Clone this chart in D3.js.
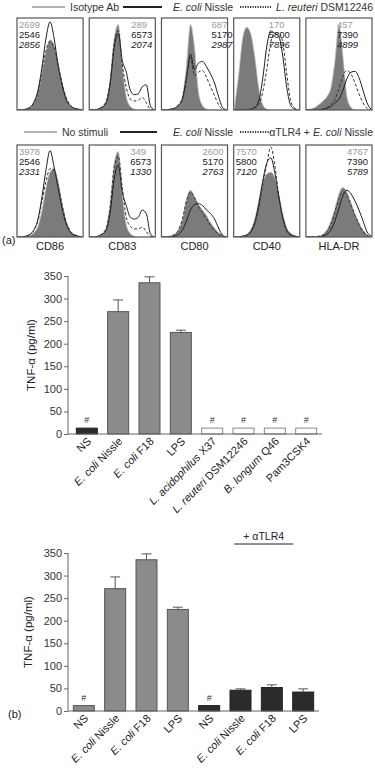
<!DOCTYPE html>
<html>
<head>
<meta charset="utf-8">
<script src="https://cdn.jsdelivr.net/npm/d3@7"></script>
<style>
  html, body { margin: 0; padding: 0; background: #fff; }
  svg { display: block; font-family: "Liberation Sans", Arial, sans-serif; }
  .axis path, .axis line { stroke: #666; }
  .axis text { fill: #333; font-size: 11px; }
</style>
</head>
<body>
<div id="chart"></div>
<script>
// ---------------------------------------------------------------------------
// (a) flow histograms — marker names, MFI values and curve heights per panel
// ---------------------------------------------------------------------------
const markers = ["CD86", "CD83", "CD80", "CD40", "HLA-DR"];

const mfiRow1 = [[2699, 2546, 2856], [289, 6573, 2074], [687, 5170, 2987], [170, 5800, 7896], [457, 7390, 4899]];
const mfiRow2 = [[3978, 2546, 2331], [349, 6573, 1330], [2600, 5170, 2763], [7570, 5800, 7120], [4767, 7390, 5789]];

// heights 0..100, 17 bins across each panel
const histRow1Fill = [
  [0, 0, 1, 3, 8, 20, 42, 65, 78, 72, 52, 30, 14, 5, 2, 1, 0],
  [0, 0, 1, 3, 10, 35, 80, 95, 50, 15, 4, 1, 0, 0, 0, 0, 0],
  [0, 0, 1, 2, 5, 15, 50, 95, 70, 20, 5, 1, 0, 0, 0, 0, 0],
  [5, 40, 80, 92, 85, 60, 25, 6, 1, 0, 0, 0, 0, 0, 0, 0, 0],
  [0, 1, 3, 6, 10, 15, 25, 55, 95, 60, 15, 3, 0, 0, 0, 0, 0],
];
const histRow1Solid = [
  [0, 0, 1, 3, 9, 22, 48, 80, 98, 80, 50, 28, 12, 5, 2, 1, 0],
  [0, 0, 1, 3, 8, 30, 70, 85, 55, 42, 22, 17, 18, 26, 28, 5, 0],
  [0, 0, 1, 2, 5, 12, 35, 62, 45, 52, 54, 48, 40, 30, 15, 3, 0],
  [0, 0, 0, 0, 1, 3, 10, 35, 70, 88, 85, 82, 60, 25, 5, 1, 0],
  [0, 0, 0, 0, 1, 2, 4, 8, 12, 22, 35, 42, 43, 36, 22, 8, 1],
];
const histRow1Dash = [
  [0, 0, 1, 3, 8, 20, 44, 66, 76, 70, 50, 30, 14, 6, 2, 1, 0],
  [0, 0, 1, 4, 10, 32, 75, 88, 50, 25, 12, 10, 11, 14, 8, 1, 0],
  [0, 0, 1, 2, 6, 14, 38, 58, 38, 42, 44, 36, 26, 16, 6, 1, 0],
  [0, 0, 0, 0, 0, 2, 6, 20, 45, 75, 85, 86, 75, 40, 10, 2, 0],
  [0, 0, 0, 0, 1, 3, 6, 12, 24, 38, 44, 40, 30, 18, 8, 2, 0],
];
const histRow2Fill = [
  [0, 0, 1, 2, 5, 12, 30, 55, 72, 76, 62, 38, 18, 7, 3, 1, 0],
  [0, 0, 1, 3, 10, 38, 82, 95, 48, 14, 4, 1, 0, 0, 0, 0, 0],
  [0, 0, 1, 3, 8, 20, 42, 52, 45, 36, 30, 24, 16, 10, 5, 2, 0],
  [0, 0, 1, 3, 8, 20, 40, 60, 70, 72, 66, 48, 26, 10, 4, 1, 0],
  [0, 0, 0, 1, 3, 8, 18, 32, 48, 55, 50, 38, 26, 16, 8, 3, 0],
];
const histRow2Solid = [
  [0, 0, 1, 3, 8, 20, 45, 75, 96, 78, 55, 32, 15, 6, 2, 1, 0],
  [0, 0, 1, 3, 8, 28, 65, 80, 50, 35, 22, 20, 22, 30, 26, 4, 0],
  [0, 0, 0, 1, 3, 8, 18, 30, 36, 37, 35, 30, 26, 20, 10, 2, 0],
  [0, 0, 1, 2, 6, 16, 36, 62, 82, 88, 72, 45, 22, 8, 3, 1, 0],
  [0, 0, 0, 0, 1, 3, 8, 18, 32, 46, 52, 48, 40, 30, 18, 6, 1],
];
const histRow2Dash = [
  [0, 0, 1, 3, 8, 18, 40, 62, 76, 74, 58, 36, 17, 7, 3, 1, 0],
  [0, 0, 1, 4, 10, 34, 78, 90, 55, 22, 12, 9, 9, 11, 6, 1, 0],
  [0, 0, 1, 3, 8, 20, 40, 50, 44, 34, 27, 20, 13, 7, 3, 1, 0],
  [0, 0, 1, 2, 5, 14, 32, 58, 80, 100, 80, 46, 20, 6, 2, 1, 0],
  [0, 0, 0, 1, 2, 6, 14, 28, 42, 50, 46, 36, 24, 14, 6, 2, 0],
];

// legend entries: [italic part, plain part]
const legendRow1 = [["", "Isotype Ab"], ["E. coli", " Nissle"], ["L. reuteri", " DSM12246"]];
const legendRow2 = [["", "No stimuli"], ["E. coli", " Nissle"], ["", "αTLR4 + ", "E. coli", " Nissle"]];

// ---------------------------------------------------------------------------
// (a) lower + (b) TNF-α bars
// ---------------------------------------------------------------------------
const catsA = [["", "NS"], ["E. coli", " Nissle"], ["E. coli", " F18"], ["", "LPS"],
  ["L. acidophilus", " X37"], ["L. reuteri", " DSM12246"], ["B. longum", " Q46"], ["", "Pam3CSK4"]];
const valuesA = [13, 271, 335, 225, 13, 13, 13, 13];
const errA = [null, 297, 348, 230, null, null, null, null];
const hashA = [true, false, false, false, true, true, true, true];
const kindA = ["dark", "gray", "gray", "gray", "open", "open", "open", "open"];

const catsB = [["", "NS"], ["E. coli", " Nissle"], ["E. coli", " F18"], ["", "LPS"],
  ["", "NS"], ["E. coli", " Nissle"], ["E. coli", " F18"], ["", "LPS"]];
const valuesB = [12, 271, 335, 225, 12, 46, 52, 42];
const errB = [null, 297, 348, 230, null, 49, 58, 49];
const hashB = [true, false, false, false, true, false, false, false];
const kindB = ["gray", "gray", "gray", "gray", "dark", "dark", "dark", "dark"];

const yTicks = [0, 50, 100, 150, 200, 250, 300, 350];

const W = 375, H = 768;
const svg = d3.select("#chart").append("svg").attr("width", W).attr("height", H);
svg.append("rect").attr("width", W).attr("height", H).attr("fill", "#fff");
const defs = svg.append("defs");

// ---- legends ---------------------------------------------------------------
function legend(y, entries, lines) {
  const g = svg.append("g");
  const styles = [
    { stroke: "#9a9a9a", w: 1.4, dash: null },
    { stroke: "#222", w: 2, dash: null },
    { stroke: "#333", w: 2, dash: "1.2,1.3" },
  ];
  lines.forEach((l, i) => {
    g.append("line").attr("x1", l[0]).attr("x2", l[1]).attr("y1", y).attr("y2", y)
      .attr("stroke", styles[i].stroke).attr("stroke-width", styles[i].w)
      .attr("stroke-dasharray", styles[i].dash);
    const t = g.append("text").attr("y", y + 4).attr("font-size", 10.5).attr("fill", "#333");
    if (i === 2) t.attr("x", 373).attr("text-anchor", "end");
    else t.attr("x", l[2]);
    entries[i].forEach((part, k) => {
      if (!part) return;
      t.append("tspan").attr("font-style", k % 2 === 0 ? "italic" : "normal").text(part);
    });
  });
}
legend(7, legendRow1, [[32, 65, 70], [123, 162, 173], [240, 271, 274]]);
legend(132, legendRow2, [[24, 57, 62], [120, 157, 173], [240, 271, 274]]);

// ---- histogram rows --------------------------------------------------------
const panelX = d3.scaleBand().domain(markers).range([17, 372]).paddingInner(0.085);
const numOffsets1 = [2, 42, 50, 35, 31];
const numOffsets2 = [2, 41, 41, 2, 41];

function histRow(rowIdx, top, bottom, fills, solids, dashes, mfi, offsets) {
  markers.forEach((m, i) => {
    const x0 = panelX(m), w = panelX.bandwidth();
    const g = svg.append("g");
    const clipId = `clip-${rowIdx}-${i}`;
    defs.append("clipPath").attr("id", clipId).append("rect")
      .attr("x", x0).attr("y", top).attr("width", w).attr("height", bottom - top);
    const x = d3.scaleLinear().domain([0, 16]).range([x0 + 1, x0 + w - 1]);
    const y = d3.scaleLinear().domain([0, 100]).range([bottom, top + 2]);
    const area = d3.area().x((d, k) => x(k)).y0(bottom).y1((d) => y(d)).curve(d3.curveMonotoneX);
    const line = d3.line().x((d, k) => x(k)).y((d) => y(d)).curve(d3.curveMonotoneX);
    const c = g.append("g").attr("clip-path", `url(#${clipId})`);
    c.append("path").attr("d", area(fills[i])).attr("fill", "#7b7b7b");
    c.append("path").attr("d", line(fills[i])).attr("fill", "none").attr("stroke", "#c8c8c8").attr("stroke-width", 0.8);
    c.append("path").attr("d", line(solids[i])).attr("fill", "none").attr("stroke", "#1e1e1e").attr("stroke-width", 1);
    c.append("path").attr("d", line(dashes[i])).attr("fill", "none").attr("stroke", "#333")
      .attr("stroke-width", 1).attr("stroke-dasharray", "3,2");
    g.append("rect").attr("x", x0).attr("y", top).attr("width", w).attr("height", bottom - top)
      .attr("fill", "none").attr("stroke", "#555").attr("stroke-width", 1.2);
    const colors = ["#9c9c9c", "#222", "#222"];
    mfi[i].forEach((v, k) => {
      g.append("text").attr("x", x0 + offsets[i]).attr("y", top + 10 + k * 10)
        .attr("font-size", 9.5).attr("fill", colors[k])
        .attr("font-style", k === 2 ? "italic" : "normal").text(v);
    });
  });
}
histRow(1, 18, 110, histRow1Fill, histRow1Solid, histRow1Dash, mfiRow1, numOffsets1);
histRow(2, 145, 237, histRow2Fill, histRow2Solid, histRow2Dash, mfiRow2, numOffsets2);

markers.forEach((m) => {
  svg.append("text").attr("x", panelX(m) + panelX.bandwidth() / 2).attr("y", 250)
    .attr("text-anchor", "middle").attr("font-size", 11).attr("fill", "#222").text(m);
});
svg.append("text").attr("x", 2).attr("y", 244).attr("font-size", 11).attr("fill", "#222").text("(a)");

// ---- bar charts ------------------------------------------------------------
function barChart(opts) {
  const { cats, values, errs, hashes, kinds, axisX, x0, x1, y0, y1, labelX } = opts;
  const g = svg.append("g");
  const x = d3.scaleBand().domain(d3.range(cats.length)).range([x0, x1])
    .paddingInner(0.33).paddingOuter(0.17);
  const y = d3.scaleLinear().domain([0, 350]).range([y0, y1]);

  const fills = { dark: "#2b2b2b", gray: "#898b8d", open: "#fff" };
  const strokes = { dark: "#222", gray: "#555", open: "#888" };

  g.selectAll("rect.bar").data(values).enter().append("rect")
    .attr("class", "bar")
    .attr("x", (d, i) => x(i)).attr("width", x.bandwidth())
    .attr("y", (d) => y(d)).attr("height", (d) => y0 - y(d))
    .attr("fill", (d, i) => fills[kinds[i]])
    .attr("stroke", (d, i) => strokes[kinds[i]]).attr("stroke-width", 1);

  errs.forEach((e, i) => {
    if (e == null) return;
    const cx = x(i) + x.bandwidth() / 2;
    g.append("line").attr("x1", cx).attr("x2", cx).attr("y1", y(values[i])).attr("y2", y(e))
      .attr("stroke", "#555").attr("stroke-width", 1);
    g.append("line").attr("x1", cx - 5).attr("x2", cx + 5).attr("y1", y(e)).attr("y2", y(e))
      .attr("stroke", "#555").attr("stroke-width", 1);
  });

  hashes.forEach((h, i) => {
    if (!h) return;
    g.append("text").attr("x", x(i) + x.bandwidth() / 2).attr("y", y(values[i]) - 5)
      .attr("text-anchor", "middle").attr("font-size", 9).attr("fill", "#333").text("#");
  });

  // axes
  g.append("line").attr("x1", axisX).attr("x2", x1).attr("y1", y0).attr("y2", y0)
    .attr("stroke", "#666").attr("stroke-width", 1);
  const ax = g.append("g").attr("class", "axis").attr("transform", `translate(${axisX},0)`)
    .call(d3.axisLeft(y).tickValues(yTicks).tickSize(4).tickPadding(2).tickFormat(d3.format("d")));
  ax.select(".domain").attr("d", `M0,${y0}V${y1}`);

  // rotated category labels
  cats.forEach((c, i) => {
    const cx = x(i) + x.bandwidth() / 2;
    const t = g.append("text")
      .attr("transform", `translate(${cx + 5},${y0 + 8}) rotate(-45)`)
      .attr("text-anchor", "end").attr("font-size", 11).attr("fill", "#222");
    if (c[0]) t.append("tspan").attr("font-style", "italic").text(c[0]);
    t.append("tspan").text(c[1]);
  });

  g.append("text").attr("transform", `translate(${labelX},${(y0 + y1) / 2}) rotate(-90)`)
    .attr("text-anchor", "middle").attr("font-size", 11.5).attr("fill", "#222")
    .text("TNF-α (pg/ml)");
  return { x, y };
}

barChart({ cats: catsA, values: valuesA, errs: errA, hashes: hashA, kinds: kindA,
  axisX: 68, x0: 71, x1: 322, y0: 434, y1: 276, labelX: 35 });

const b = barChart({ cats: catsB, values: valuesB, errs: errB, hashes: hashB, kinds: kindB,
  axisX: 68, x0: 68, x1: 319, y0: 711, y1: 553, labelX: 32 });

// + αTLR4 bracket over the last four bars
const bx0 = b.x(4) + b.x.bandwidth() / 2 + 25, bx1 = b.x(7) + b.x.bandwidth() / 2 - 10;
svg.append("text").attr("x", (bx0 + bx1) / 2).attr("y", 540).attr("text-anchor", "middle")
  .attr("font-size", 10.5).attr("fill", "#222").text("+ αTLR4");
svg.append("line").attr("x1", bx0).attr("x2", bx1).attr("y1", 544).attr("y2", 544)
  .attr("stroke", "#222").attr("stroke-width", 1);
svg.append("text").attr("x", 8).attr("y", 718).attr("font-size", 11).attr("fill", "#222").text("(b)");
</script>
</body>
</html>
